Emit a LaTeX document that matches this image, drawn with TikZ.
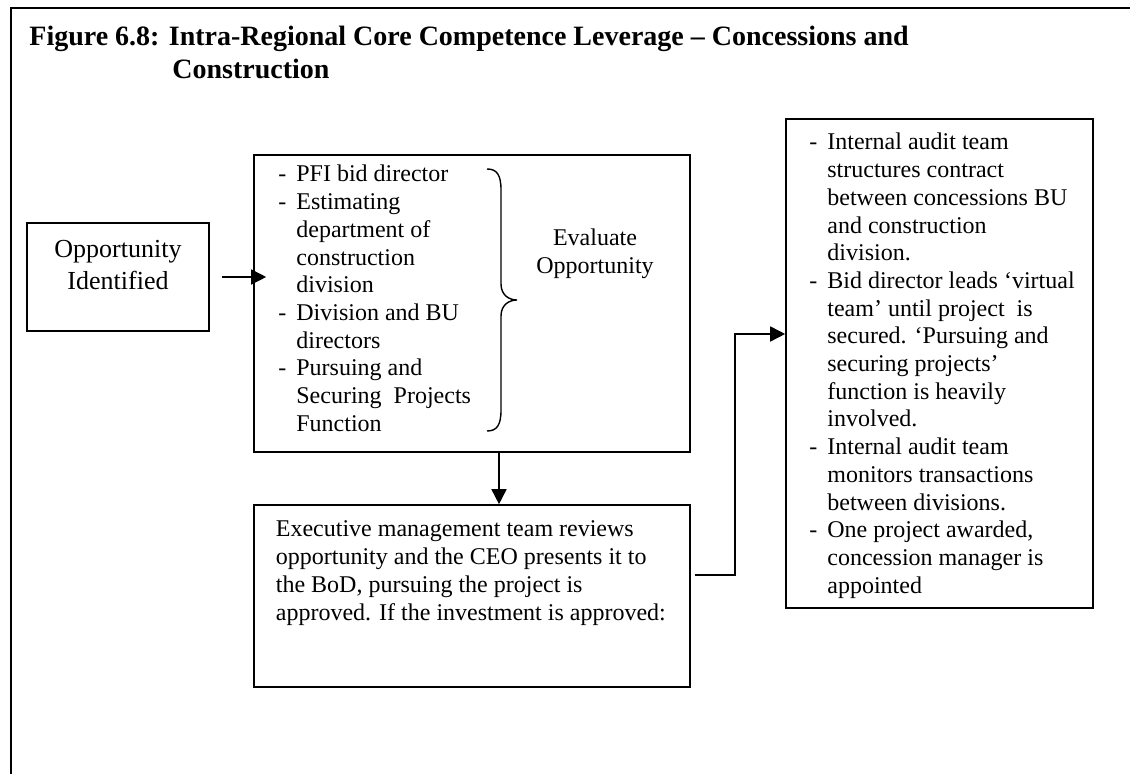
\documentclass[tikz,border=0pt]{standalone}
\usepackage{fontspec}
\setmainfont{Liberation Serif}
\usetikzlibrary{arrows.meta}
\newcommand\dsh{\makebox[9pt][l]{-}}
\newcommand\ind{\hspace*{9pt}}
\begin{document}
\begin{tikzpicture}[x=0.5pt,y=-0.5pt,
  bx/.style={draw, line width=0.8pt, inner sep=0pt},
  txt/.style={inner sep=0pt, anchor=base west},
  arr/.style={line width=0.8pt, -{Triangle[length=7.5pt,width=7.5pt]}},
  body/.style={font=\fontsize{12}{13.85}\selectfont}]
\useasboundingbox (0,0) rectangle (1130,774);
% outer frame
\draw[line width=1pt] (11,774) -- (11,8) -- (1130,8);
% title
\node[txt, font=\bfseries\fontsize{14}{16.5}\selectfont] (title) at (29,46)
  {\parbox[t]{540pt}{\raggedright Figure 6.8: Intra-Regional Core Competence Leverage \textendash{} Concessions and\\\hspace*{71.5pt}Construction}};
% boxes
\node[bx, minimum width=91pt, minimum height=54pt] (opp) at (118,277) {};
\node[bx, minimum width=218pt, minimum height=148.5pt] (b1) at (472,303.5) {};
\node[bx, minimum width=218pt, minimum height=91pt] (b2) at (472,596) {};
\node[bx, minimum width=153.5pt, minimum height=244.5pt] (b3) at (939.5,363.5) {};
% texts
\node[inner sep=0pt, anchor=base, font=\fontsize{13}{16}\selectfont] (oppt) at (118,258)
  {\parbox[t]{88pt}{\centering Opportunity\\Identified}};
\node[txt, body] (b1t) at (278,182) {\parbox[t]{110pt}{\raggedright
\dsh PFI bid director\\
\dsh Estimating\\
\ind department of\\
\ind construction\\
\ind division\\
\dsh Division and BU\\
\ind directors\\
\dsh Pursuing and\\
\ind Securing\ \ Projects\\
\ind Function}};
\node[inner sep=0pt, anchor=base, body] (ev) at (595,246)
  {\parbox[t]{80pt}{\centering\fontsize{12}{14}\selectfont Evaluate\\Opportunity}};
\node[txt, font=\fontsize{12}{14}\selectfont] (b2t) at (275.5,537) {\parbox[t]{210pt}{\raggedright
Executive management team reviews\\
opportunity and the CEO presents it to\\
the BoD, pursuing the project is\\
approved. If the investment is approved:}};
\node[txt, body] (b3t) at (809,150) {\parbox[t]{140pt}{\raggedright
\dsh Internal audit team\\
\ind structures contract\\
\ind between concessions BU\\
\ind and construction\\
\ind division.\\
\dsh Bid director leads ‘virtual\\
\ind team’ until project\ \ is\\
\ind secured. ‘Pursuing and\\
\ind securing projects’\\
\ind function is heavily\\
\ind involved.\\
\dsh Internal audit team\\
\ind monitors transactions\\
\ind between divisions.\\
\dsh One project awarded,\\
\ind concession manager is\\
\ind appointed}};
% brace
\draw[line width=0.7pt] (487,169) .. controls (497,169) and (501,175) .. (501,190)
  -- (501,284) .. controls (501,295) and (509,300) .. (517,300)
  .. controls (509,300) and (501,305) .. (501,316)
  -- (501,410) .. controls (501,425) and (497,431) .. (487,431);
% connectors
\coordinate (dx) at (499,0);
\coordinate (j1) at (735,575);
\coordinate (j2) at (735,334);
\draw[arr] ([xshift=6pt]opp.east) -- ([xshift=6.5pt]b1.west |- opp.east);
\draw[arr] (b1.south -| dx) -- (b2.north -| dx);
\draw[arr] ([xshift=2pt]b2.east |- j1) -- (j1) -- (j2) -- (b3.west |- j2);
\end{tikzpicture}
\end{document}
